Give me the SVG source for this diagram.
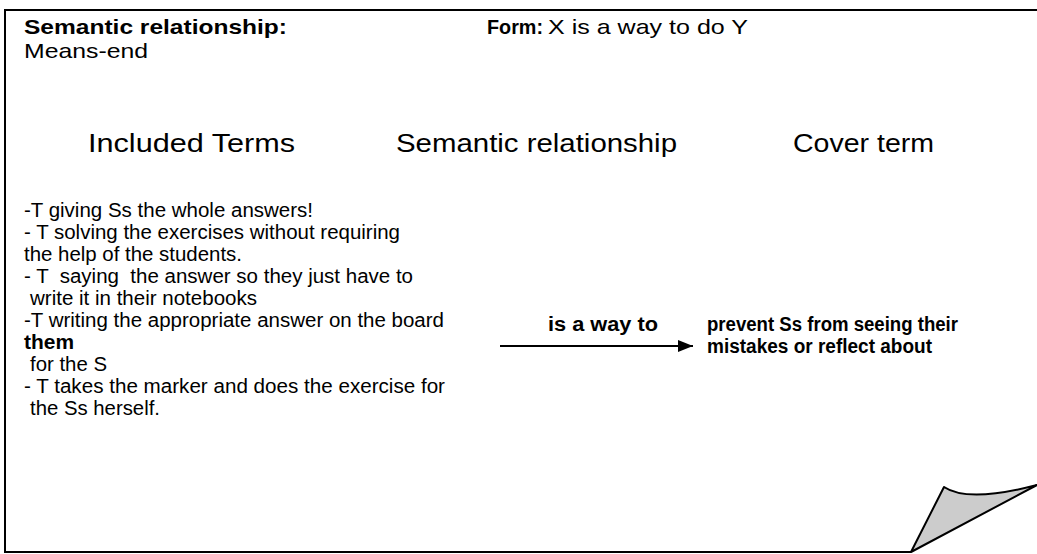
<svg xmlns="http://www.w3.org/2000/svg" width="1037" height="554" viewBox="0 0 1037 554">
<defs>
<style>
text{font-family:"Liberation Sans",Arial,sans-serif;fill:#000}
.t{font-size:21px}
.h{font-size:25px}
.b{font-weight:bold}
.l{font-size:20px}
.c{font-size:20px}
.frame{fill:none;stroke:#000;stroke-width:2}
</style>
<marker id="ah" viewBox="0 0 15 12" refX="15" refY="6" markerWidth="15" markerHeight="12" markerUnits="userSpaceOnUse" orient="auto">
<path d="M0,0 L15,6 L0,12 Z" fill="#000"/>
</marker>
</defs>
<rect width="1037" height="554" fill="#fff"/>
<g id="frame">
<path class="frame" d="M911,552 L5,552 L5,10 L1040,10"/>
<path d="M911,552 L944,487 Q968,503 1037,485 Z" fill="#cccccc" stroke="#000" stroke-width="2" stroke-linejoin="round"/>
</g>
<g id="title">
<text class="t b" x="24" y="34" textLength="263" lengthAdjust="spacingAndGlyphs">Semantic relationship:</text>
<text class="t" x="24" y="58" textLength="124" lengthAdjust="spacingAndGlyphs">Means-end</text>
<text class="t" x="487" y="34"><tspan class="b" textLength="56" lengthAdjust="spacingAndGlyphs">Form:</tspan><tspan x="548" textLength="200" lengthAdjust="spacingAndGlyphs">X is a way to do Y</tspan></text>
</g>
<g id="headers">
<text class="h" x="88" y="152" textLength="207" lengthAdjust="spacingAndGlyphs">Included Terms</text>
<text class="h" x="396" y="152" textLength="281" lengthAdjust="spacingAndGlyphs">Semantic relationship</text>
<text class="h" x="793" y="152" textLength="141" lengthAdjust="spacingAndGlyphs">Cover term</text>
</g>
<g id="included-terms">
<text class="l" x="24" y="217" textLength="289" lengthAdjust="spacingAndGlyphs">-T giving Ss the whole answers!</text>
<text class="l" x="24" y="239" textLength="376" lengthAdjust="spacingAndGlyphs">- T solving the exercises without requiring</text>
<text class="l" x="24" y="261" textLength="218" lengthAdjust="spacingAndGlyphs">the help of the students.</text>
<text class="l" x="24" y="283" textLength="389" lengthAdjust="spacingAndGlyphs" xml:space="preserve">- T  saying  the answer so they just have to</text>
<text class="l" x="30" y="305" textLength="227" lengthAdjust="spacingAndGlyphs">write it in their notebooks</text>
<text class="l" x="24" y="327" textLength="420" lengthAdjust="spacingAndGlyphs">-T writing the appropriate answer on the board</text>
<text class="l b" x="24" y="349" textLength="50" lengthAdjust="spacingAndGlyphs">them</text>
<text class="l" x="30" y="371" textLength="77" lengthAdjust="spacingAndGlyphs">for the S</text>
<text class="l" x="24" y="393" textLength="421" lengthAdjust="spacingAndGlyphs">- T takes the marker and does the exercise for</text>
<text class="l" x="30" y="415" textLength="130" lengthAdjust="spacingAndGlyphs">the Ss herself.</text>
</g>
<g id="connectors">
<line x1="500" y1="346" x2="693" y2="346" stroke="#000" stroke-width="2" marker-end="url(#ah)"/>
<text class="c b" x="548" y="331" textLength="110" lengthAdjust="spacingAndGlyphs">is a way to</text>
</g>
<g id="cover-term">
<text class="c b" x="707" y="331" textLength="251" lengthAdjust="spacingAndGlyphs">prevent Ss from seeing their</text>
<text class="c b" x="707" y="353" textLength="225" lengthAdjust="spacingAndGlyphs">mistakes or reflect about</text>
</g>
</svg>
